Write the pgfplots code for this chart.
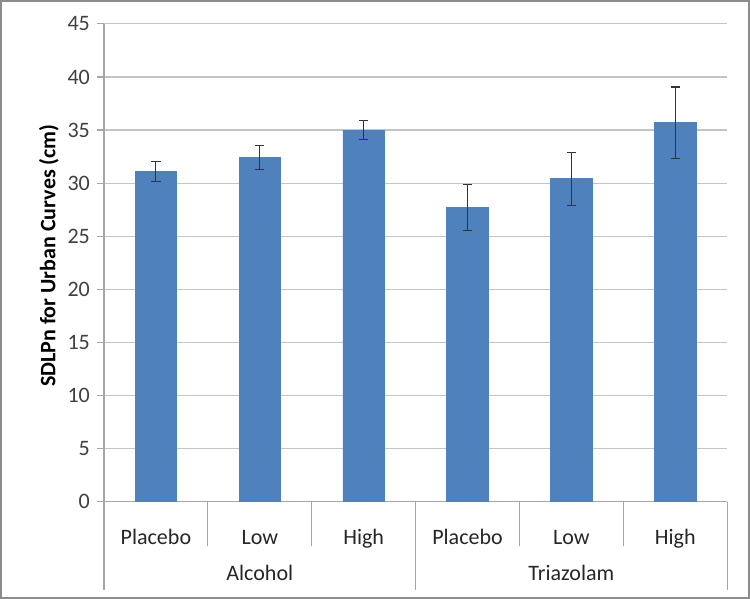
\documentclass[border=0pt]{standalone}
\usepackage{pgfplots}
\pgfplotsset{compat=1.18}
\usepackage{fontspec}
\setmainfont{Carlito}
\definecolor{barblue}{HTML}{4F81BD}
\definecolor{gridgray}{HTML}{C4C4C4}
\definecolor{axgray}{HTML}{A6A6A6}
\definecolor{framegray}{HTML}{8C8C8C}

\begin{document}
\begin{tikzpicture}
\begin{axis}[
    width=311pt, height=238.5pt, scale only axis,
    ybar, bar width=20.7pt,
    ymin=0, ymax=45, ytick={0,5,...,45},
    xmin=-0.5, xmax=5.5,
    xtick={0,...,5},
    xticklabels={Placebo,Low,High,Placebo,Low,High},
    axis x line=bottom, axis y line=left,
    axis line style={-, draw=axgray, line width=0.6pt},
    ymajorgrids, major grid style={gridgray, line width=0.6pt},
    tick align=outside, major tick length=3.5pt,
    ytick style={draw=axgray, line width=0.6pt},
    xtick style={draw=none},
    font=\fontsize{11pt}{13pt}\selectfont,
    /pgf/number format/assume math mode=true,
    yticklabel style={text=black!75},
    xticklabel style={anchor=base, yshift=-18pt, text=black!85},
    ylabel={\textbf{SDLPn for Urban Curves (cm)}},
    ylabel style={at={(axis description cs:-0.0884,0.515)}, anchor=center},
    clip=false,
    ]
% means with error bars
\addplot[fill=barblue, draw=barblue,
    error bars/.cd, y dir=both, y explicit,
    error bar style={black!80, line width=0.5pt},
    error mark options={rotate=90, mark size=2.3pt, black!80, line width=0.6pt}]
    coordinates {
    (0,31.1) +- (0,0.95)
    (1,32.4) +- (0,1.15)
    (2,35.0) +- (0,0.9)
    (3,27.7) +- (0,2.15)
    (4,30.4) +- (0,2.5)
    (5,35.7) +- (0,3.35)
    };
% category separators
\draw[axgray, line width=0.6pt] (axis cs:0.5,0) -- ++(0pt,-22pt);
\draw[axgray, line width=0.6pt] (axis cs:1.5,0) -- ++(0pt,-22pt);
\draw[axgray, line width=0.6pt] (axis cs:3.5,0) -- ++(0pt,-22pt);
\draw[axgray, line width=0.6pt] (axis cs:4.5,0) -- ++(0pt,-22pt);
\draw[axgray, line width=0.6pt] (axis cs:-0.5,0) -- ++(0pt,-44pt);
\draw[axgray, line width=0.6pt] (axis cs:2.5,0) -- ++(0pt,-44pt);
\draw[axgray, line width=0.6pt] (axis cs:5.5,0) -- ++(0pt,-44pt);
\node[anchor=base, yshift=-39.5pt, text=black!85] at (axis cs:1,0) {Alcohol};
\node[anchor=base, yshift=-39.5pt, text=black!85] at (axis cs:4,0) {Triazolam};
\coordinate (ll) at (rel axis cs:0,0);
\coordinate (ur) at (rel axis cs:1,1);
\end{axis}
\draw[framegray, line width=0.8pt] ([xshift=-51.5pt,yshift=-48pt]ll) rectangle ([xshift=11pt,yshift=11.5pt]ur);
\end{tikzpicture}
\end{document}
